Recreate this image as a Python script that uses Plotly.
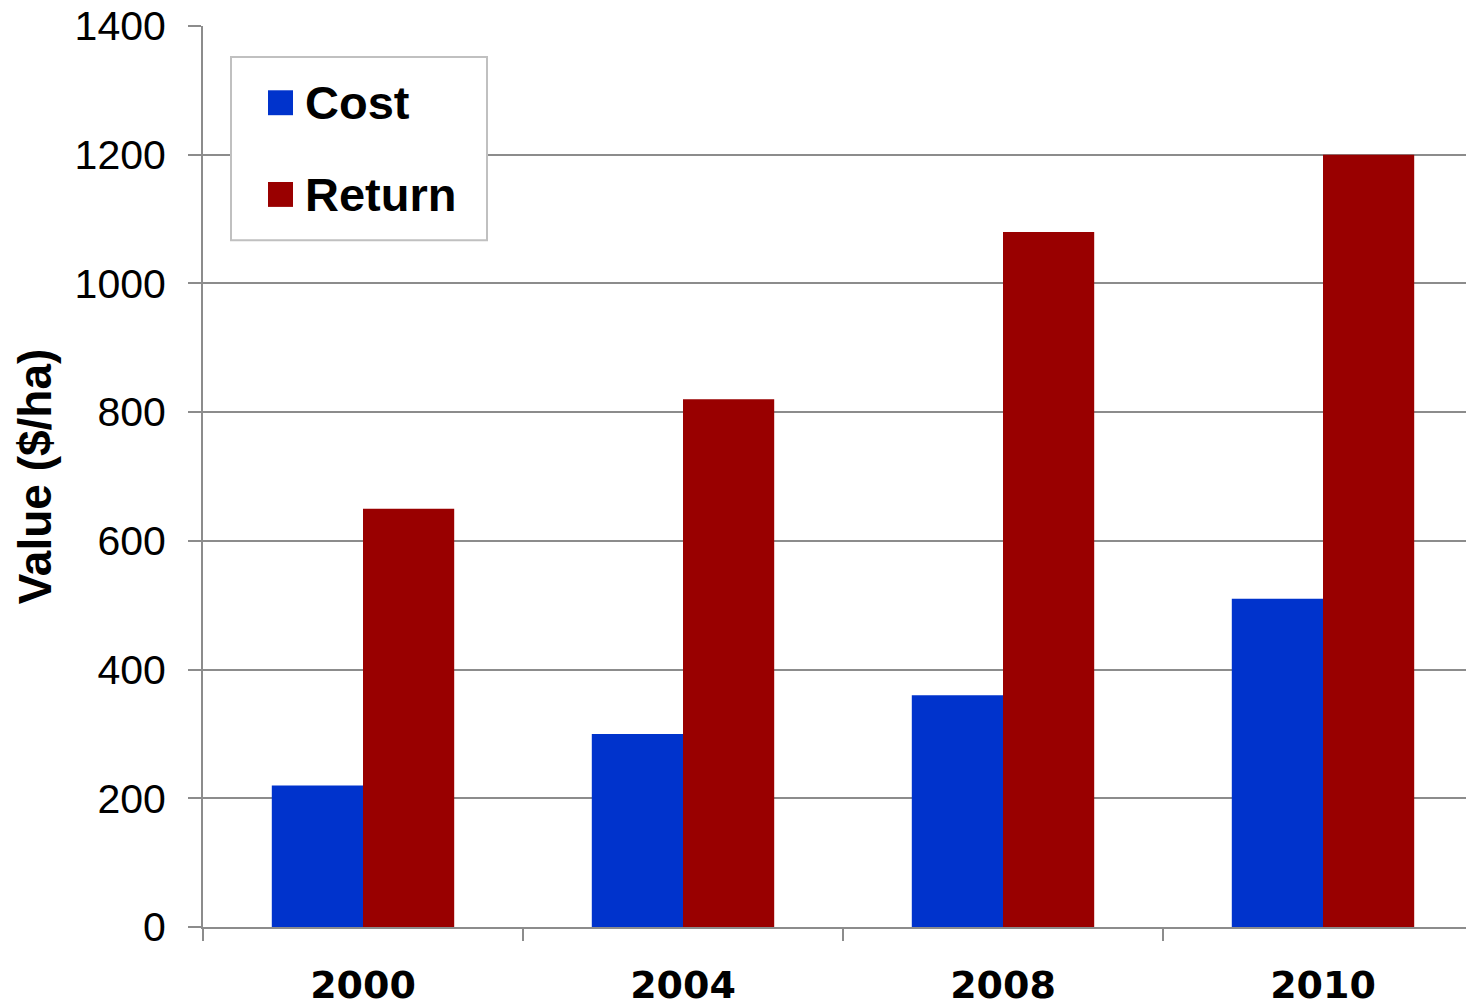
import plotly.graph_objects as go

years = ["2000", "2004", "2008", "2010"]
cost = [220, 300, 360, 510]
ret = [650, 820, 1080, 1200]
series_names = ["Cost", "Return"]
series_colors = ["#0033CC", "#990000"]
y_ticks = [0, 200, 400, 600, 800, 1000, 1200, 1400]

W, H = 1466, 1007
L, T, R, B = 203, 26, 0, 77
pw, ph = W - L - R, H - T - B

def px(x):
    return (x - L) / pw

def py(y):
    return (H - B - y) / ph

fig = go.Figure()
for name, vals, col in zip(series_names, [cost, ret], series_colors):
    fig.add_trace(go.Bar(x=years, y=vals, name=name, marker=dict(color=col, line=dict(width=0)),
                         showlegend=False))

grid = "#8c8c8c"
fig.update_layout(
    width=W, height=H,
    margin=dict(l=L, r=R, t=T, b=B, pad=0),
    paper_bgcolor="white", plot_bgcolor="white",
    barmode="group", bargap=0.43, bargroupgap=0,
    xaxis=dict(type="category", range=[-0.5, -0.5 + pw / 320.0],
               tickson="boundaries", ticks="outside", ticklen=12, tickwidth=2, tickcolor=grid,
               showline=True, linecolor=grid, linewidth=2, showgrid=False,
               tickfont=dict(family="DejaVu Sans", size=38, color="black", weight="bold"),
               ticklabelstandoff=23),
    yaxis=dict(range=[0, 1400], tickvals=y_ticks, ticks="outside", ticklen=13, tickwidth=2,
               tickcolor=grid, showline=True, linecolor=grid, linewidth=2,
               showgrid=True, gridcolor=grid, gridwidth=2, zeroline=False,
               tickfont=dict(family="Liberation Sans, Arial", size=41, color="black"),
               ticklabelstandoff=14,
               title=dict(text="<b>Value ($/ha)</b>", standoff=8,
                          font=dict(family="Liberation Sans, Arial", size=46, color="black"))),
    font=dict(family="Liberation Sans, Arial"),
)

# Manual legend (box, swatches, labels)
shapes = [dict(type="rect", xref="paper", yref="paper", x0=px(231), x1=px(487), y0=py(241), y1=py(57),
               line=dict(color="#c0c0c0", width=2), fillcolor="white", layer="above")]
ann = []
for i, (name, col) in enumerate(zip(series_names, series_colors)):
    cy = 103 + i * 92
    shapes.append(dict(type="rect", xref="paper", yref="paper", x0=px(268), x1=px(293),
                       y0=py(cy + 12.5), y1=py(cy - 12.5), line=dict(width=0), fillcolor=col,
                       layer="above"))
    ann.append(dict(xref="paper", yref="paper", x=px(303), y=py(cy), text="<b>%s</b>" % name,
                    showarrow=False, xanchor="left", yanchor="middle",
                    font=dict(family="Liberation Sans, Arial", size=47, color="black")))
fig.update_layout(shapes=shapes, annotations=ann)

fig.write_html("out.html", config={"displayModeBar": False},
               post_script="document.body.style.margin='0';document.body.style.overflow='hidden';")
